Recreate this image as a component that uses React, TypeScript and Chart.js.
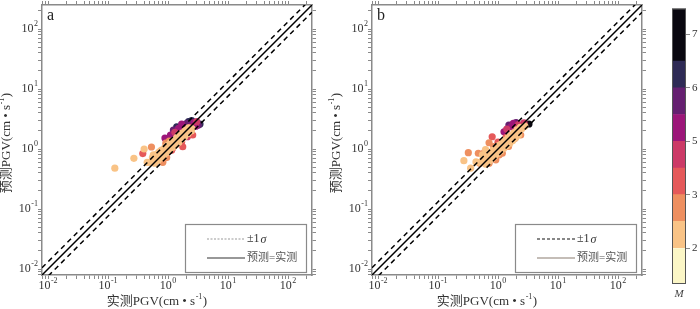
import React, { useEffect, useRef } from "react";
import { Chart, registerables } from "chart.js";
Chart.register(...registerables);

// ---------- axis setup ----------
const LOG_MIN = -2.1;
const LOG_MAX = 2.4;
const AXIS_MIN = Math.pow(10, LOG_MIN);
const AXIS_MAX = Math.pow(10, LOG_MAX);
const DECADES = [-2, -1, 0, 1, 2];
const SIGMA = 0.12; // log10 units

// ---------- colour bar (magnitude classes) ----------
const BAND_COLORS = ["#fbf6c6", "#f9c386", "#ee8f60", "#e5595a", "#cc3a67", "#9c1679", "#651f70", "#2e2a55", "#09070f"];
const BAND_EDGES = [-0.67, 0, 0.5, 1, 1.5, 2, 2.5, 3, 3.5, 4.48];
const CB_TICKS = [0, 1, 2, 3, 4];
const CB_LABELS = ["2", "3", "5", "6", "7"];

// ---------- panel a : observed x, predicted y, magnitude class ----------
const aX = [1.40, 3.41, 2.48, 2.20, 2.05, 1.23, 1.85, 3.20, 1.50, 1.69, 2.70, 2.90, 1.60, 1.10, 0.89,
  3.01, 1.30, 2.30, 2.10, 1.20,
  0.38, 1.47, 1.76, 1.69, 2.58, 1.15, 1.60,
  0.53, 0.82, 0.75, 0.95, 1.30, 0.92, 1.05,
  0.13, 0.27, 0.40, 0.57, 0.69, 0.45,
  0.50, 0.56, 0.63, 0.71, 0.79, 0.89, 1.00, 1.12, 1.26, 1.41, 1.58, 1.78, 2.00, 2.24, 2.51,
  0.55, 0.62, 0.70, 0.78, 0.88, 0.98, 1.10, 1.25, 1.40, 1.55, 1.75, 1.95, 2.20,
  0.60, 0.68, 0.76, 0.86, 0.96, 1.08, 1.22, 1.36, 1.52, 1.70, 1.90, 2.15, 2.45];
const aY = [2.35, 2.61, 2.97, 2.85, 2.68, 2.07, 2.45, 2.50, 2.20, 2.61, 2.75, 2.40, 2.00, 1.70, 1.52,
  2.85, 1.90, 2.30, 1.60, 1.05,
  0.84, 1.32, 1.09, 1.32, 1.71, 0.95, 1.45,
  1.08, 0.60, 0.92, 0.72, 1.20, 1.25, 1.35,
  0.48, 0.70, 1.00, 0.80, 0.66, 0.60,
  0.60, 0.66, 0.72, 0.79, 0.87, 0.95, 1.05, 1.15, 1.26, 1.38, 1.51, 1.66, 1.82, 2.00, 2.19,
  0.72, 0.80, 0.88, 0.96, 1.05, 1.15, 1.28, 1.40, 1.55, 1.70, 1.85, 2.05, 2.25,
  0.58, 0.65, 0.72, 0.80, 0.88, 0.98, 1.08, 1.18, 1.30, 1.45, 1.62, 1.80, 2.00];
const aM = [7, 7, 7, 7, 6, 6, 6, 6, 5, 5, 5, 5, 5, 5, 5,
  4, 4, 4, 4, 4,
  3, 3, 3, 3, 3, 3, 3,
  2, 2, 2, 2, 2, 2, 2,
  1, 1, 1, 1, 1, 1,
  1, 1, 1, 1, 1, 1, 1, 1, 1, 1, 1, 1, 1, 1, 1,
  1, 1, 1, 1, 1, 1, 1, 1, 1, 1, 1, 1, 1,
  1, 1, 1, 1, 1, 1, 1, 1, 1, 1, 1, 1, 1];

// ---------- panel b ----------
const bX = [3.28, 1.52, 2.00, 1.80, 1.26, 1.65, 2.71, 1.40, 2.20,
  0.80, 1.00, 2.10, 1.35,
  0.32, 0.47, 0.59, 0.71, 2.39, 1.18, 0.92, 0.71, 0.50, 0.85, 1.05, 1.50, 1.90,
  0.27, 0.35, 0.43, 0.62, 0.55,
  0.50, 0.56, 0.63, 0.71, 0.79, 0.89, 1.00, 1.12, 1.26, 1.41, 1.58, 1.78, 2.00, 2.24, 2.51, 2.80,
  0.58, 0.66, 0.74, 0.83, 0.93, 1.04, 1.17, 1.31, 1.47, 1.65, 1.85, 2.08, 2.35,
  0.62, 0.70, 0.79, 0.88, 0.99, 1.11, 1.25, 1.40, 1.57, 1.76, 1.98, 2.22];
const bY = [2.61, 2.51, 2.75, 2.68, 1.94, 2.35, 2.74, 2.15, 2.55,
  1.60, 1.30, 2.10, 1.55,
  0.87, 0.85, 0.87, 1.27, 1.71, 0.85, 0.66, 0.58, 0.58, 1.10, 0.80, 1.10, 1.50,
  0.64, 0.48, 0.61, 0.98, 0.80,
  0.60, 0.66, 0.72, 0.79, 0.87, 0.95, 1.05, 1.15, 1.26, 1.38, 1.51, 1.66, 1.82, 2.00, 2.19, 2.40,
  0.72, 0.80, 0.88, 0.96, 1.05, 1.15, 1.28, 1.40, 1.55, 1.70, 1.88, 2.08, 2.30,
  0.56, 0.62, 0.69, 0.76, 0.84, 0.93, 1.03, 1.13, 1.25, 1.38, 1.55, 1.72];
const bM = [8, 6, 6, 5, 5, 5, 4, 4, 4,
  3, 3, 3, 3,
  2, 2, 2, 2, 2, 2, 2, 2, 2, 2, 2, 2, 2,
  1, 1, 1, 1, 1,
  1, 1, 1, 1, 1, 1, 1, 1, 1, 1, 1, 1, 1, 1, 1, 1,
  1, 1, 1, 1, 1, 1, 1, 1, 1, 1, 1, 1, 1,
  1, 1, 1, 1, 1, 1, 1, 1, 1, 1, 1, 1];

const X_TITLE = "实测PGV(cm \u2022 s";
const Y_TITLE = "预测PGV(cm \u2022 s";
const LEGEND_SIGMA = "\u00b11";
const LEGEND_EQUAL = "预测=实测";

const SERIF = "'Liberation Serif', 'Times New Roman', 'Noto Sans CJK SC', serif";
const TEXT = "#333";
const FRAME = "#8a8a8a";

const MINOR_TICKS: number[] = [];
for (let d = -3; d <= 2; d++) {
  for (let k = 1; k <= 9; k++) {
    const v = k * Math.pow(10, d);
    if (v >= AXIS_MIN && v <= AXIS_MAX) MINOR_TICKS.push(v);
  }
}

function logAxis(position: string, size: number) {
  const vertical = position === "left" || position === "right";
  return {
    type: "logarithmic",
    position,
    min: AXIS_MIN,
    max: AXIS_MAX,
    afterBuildTicks: (s: any) => {
      s.ticks = MINOR_TICKS.map((v) => ({ value: v }));
    },
    afterFit: (s: any) => {
      if (vertical) s.width = size;
      else s.height = size;
    },
    ticks: { display: false, autoSkip: false },
    grid: { drawOnChartArea: false, drawTicks: true, tickLength: 4, color: FRAME, lineWidth: 1 },
    border: { display: true, color: FRAME, width: 1.5 },
  };
}

function drawPow(ctx: CanvasRenderingContext2D, x: number, y: number, exp: number, align: string) {
  const base = "10";
  const sup = exp < 0 ? "-" + Math.abs(exp) : String(exp);
  ctx.font = `12px ${SERIF}`;
  const wb = ctx.measureText(base).width;
  ctx.font = `8px ${SERIF}`;
  const we = ctx.measureText(sup).width;
  const total = wb + we + 0.5;
  let x0 = x;
  if (align === "center") x0 = x - total / 2;
  else if (align === "right") x0 = x - total;
  ctx.textAlign = "left";
  ctx.textBaseline = "middle";
  ctx.fillStyle = TEXT;
  ctx.font = `12px ${SERIF}`;
  ctx.fillText(base, x0, y);
  ctx.font = `8px ${SERIF}`;
  ctx.fillText(sup, x0 + wb + 0.5, y - 5);
}

function drawTitle(ctx: CanvasRenderingContext2D, text: string, cx: number, cy: number) {
  ctx.font = `13px ${SERIF}`;
  const w1 = ctx.measureText(text).width;
  ctx.font = `8px ${SERIF}`;
  const w2 = ctx.measureText("-1").width;
  ctx.font = `13px ${SERIF}`;
  const w3 = ctx.measureText(")").width;
  const total = w1 + w2 + w3 + 1;
  let x = cx - total / 2;
  ctx.textAlign = "left";
  ctx.textBaseline = "middle";
  ctx.fillStyle = TEXT;
  ctx.fillText(text, x, cy);
  x += w1 + 0.5;
  ctx.font = `8px ${SERIF}`;
  ctx.fillText("-1", x, cy - 5);
  x += w2 + 0.5;
  ctx.font = `13px ${SERIF}`;
  ctx.fillText(")", x, cy);
}

function panelPlugin(letter: string, legendDash: number[], legendDashColor: string, legendSolidColor: string) {
  return {
    id: "panelDeco" + letter,
    afterDraw(chart: any) {
      const { ctx, chartArea: ca, scales } = chart;
      ctx.save();
      DECADES.forEach((d) => {
        const v = Math.pow(10, d);
        drawPow(ctx, scales.x.getPixelForValue(v), ca.bottom + 11, d, "center");
        drawPow(ctx, ca.left - 4, scales.y.getPixelForValue(v), d, "right");
      });
      // axis titles
      drawTitle(ctx, X_TITLE, ca.left + 115, ca.bottom + 27);
      ctx.save();
      ctx.translate(ca.left - 35, ca.top + 138);
      ctx.rotate(-Math.PI / 2);
      drawTitle(ctx, Y_TITLE, 0, 0);
      ctx.restore();
      // panel letter
      ctx.font = `16px ${SERIF}`;
      ctx.fillStyle = "#222";
      ctx.textAlign = "left";
      ctx.textBaseline = "middle";
      ctx.fillText(letter, ca.left + 5, ca.top + 11);
      // legend box
      const bx = ca.right - 127;
      const by = ca.bottom - 51;
      const bw = 121;
      const bh = 48;
      ctx.fillStyle = "#fff";
      ctx.fillRect(bx, by, bw, bh);
      ctx.strokeStyle = FRAME;
      ctx.lineWidth = 1.2;
      ctx.strokeRect(bx + 0.5, by + 0.5, bw, bh);
      const r1 = by + 15;
      const r2 = by + 34;
      ctx.beginPath();
      ctx.setLineDash(legendDash);
      ctx.strokeStyle = legendDashColor;
      ctx.lineWidth = 1.2;
      ctx.moveTo(bx + 22, r1);
      ctx.lineTo(bx + 60, r1);
      ctx.stroke();
      ctx.setLineDash([]);
      ctx.beginPath();
      ctx.strokeStyle = legendSolidColor;
      ctx.moveTo(bx + 22, r2);
      ctx.lineTo(bx + 60, r2);
      ctx.stroke();
      ctx.fillStyle = TEXT;
      ctx.font = `12px ${SERIF}`;
      ctx.fillText(LEGEND_SIGMA, bx + 62, r1);
      const w = ctx.measureText(LEGEND_SIGMA).width;
      ctx.font = `italic 12px ${SERIF}`;
      ctx.fillText("\u03c3", bx + 62 + w + 1, r1 + 1);
      ctx.font = `11px ${SERIF}`;
      ctx.fillStyle = "#555";
      ctx.fillText(LEGEND_EQUAL, bx + 62, r2);
      ctx.restore();
    },
  };
}

function makePanelConfig(xs: number[], ys: number[], ms: number[], leftW: number, letter: string, legendDash: number[], legendDashColor: string, legendSolidColor: string) {
  const lineFactor = [Math.pow(10, SIGMA), 1, Math.pow(10, -SIGMA)];
  const lineSets = lineFactor.map((f) => ({
    type: "line",
    data: [
      { x: AXIS_MIN, y: AXIS_MIN * f },
      { x: AXIS_MAX, y: AXIS_MAX * f },
    ],
    borderColor: "#000",
    borderWidth: 1.5,
    borderDash: f === 1 ? [] : [5, 4],
    pointRadius: 0,
    showLine: true,
    fill: false,
    order: 0,
  }));
  return {
    type: "scatter",
    data: {
      datasets: [
        {
          data: xs.map((x, i) => ({ x, y: ys[i] })),
          backgroundColor: ms.map((c) => BAND_COLORS[c]),
          pointRadius: 3.6,
          borderWidth: 0,
          pointHoverRadius: 3.6,
          order: 1,
        },
        ...lineSets,
      ],
    },
    options: {
      animation: false,
      responsive: false,
      devicePixelRatio: 1,
      layout: { padding: 0 },
      plugins: { legend: { display: false }, tooltip: { enabled: false } },
      scales: {
        x: logAxis("bottom", 34),
        x2: logAxis("top", 5),
        y: logAxis("left", leftW),
        y2: logAxis("right", 13),
      },
    },
    plugins: [panelPlugin(letter, legendDash, legendDashColor, legendSolidColor)],
  };
}

function makeColorbarConfig() {
  const datasets = BAND_COLORS.map((c, i) => ({
    data: [[BAND_EDGES[i], BAND_EDGES[i + 1]]],
    backgroundColor: c,
    borderWidth: 0,
    barPercentage: 1,
    categoryPercentage: 1,
    grouped: false,
  }));
  return {
    type: "bar",
    data: { labels: ["M"], datasets },
    options: {
      animation: false,
      responsive: false,
      devicePixelRatio: 1,
      layout: { padding: { left: 17, top: 6, bottom: 25, right: 0 } },
      plugins: { legend: { display: false }, tooltip: { enabled: false } },
      scales: {
        x: { display: false },
        y: {
          position: "right",
          min: BAND_EDGES[0],
          max: BAND_EDGES[BAND_EDGES.length - 1],
          afterBuildTicks: (s: any) => {
            s.ticks = CB_TICKS.map((v) => ({ value: v }));
          },
          afterFit: (s: any) => {
            s.width = 14;
          },
          ticks: {
            callback: (v: any) => {
              const idx = CB_TICKS.indexOf(Number(v));
              return idx >= 0 ? CB_LABELS[idx] : "";
            },
            color: TEXT,
            padding: 2,
            font: { family: SERIF, size: 11 },
          },
          grid: { drawOnChartArea: false, drawTicks: true, tickLength: 4, color: FRAME },
          border: { display: false },
        },
      },
    },
    plugins: [
      {
        id: "cbDeco",
        afterDraw(chart: any) {
          const { ctx, chartArea: ca } = chart;
          ctx.save();
          ctx.strokeStyle = "#555";
          ctx.lineWidth = 1;
          ctx.strokeRect(ca.left + 0.5, ca.top + 0.5, ca.right - ca.left - 1, ca.bottom - ca.top - 1);
          ctx.fillStyle = "#444";
          ctx.font = `italic 11px ${SERIF}`;
          ctx.textAlign = "center";
          ctx.textBaseline = "middle";
          ctx.fillText("M", (ca.left + ca.right) / 2, ca.bottom + 10);
          ctx.restore();
        },
      },
    ],
  };
}

function ChartCanvas({ config, left, width, height }: any) {
  const ref = useRef<HTMLCanvasElement | null>(null);
  useEffect(() => {
    if (!ref.current) return;
    const chart = new Chart(ref.current, config() as any);
    return () => chart.destroy();
  }, []);
  return (
    <canvas
      ref={ref}
      width={width}
      height={height}
      style={{ position: "absolute", left, top: 0, width, height }}
    />
  );
}

export default function App() {
  return (
    <div style={{ position: "fixed", left: 0, top: 0, width: 700, height: 309, background: "#fff", overflow: "hidden" }}>
      <ChartCanvas
        left={0}
        width={325}
        height={309}
        config={() => makePanelConfig(aX, aY, aM, 42, "a", [2, 1.5], "#999", "#333")}
      />
      <ChartCanvas
        left={325}
        width={330}
        height={309}
        config={() => makePanelConfig(bX, bY, bM, 47, "b", [3, 2], "#111", "#8a7d70")}
      />
      <ChartCanvas left={655} width={45} height={309} config={makeColorbarConfig} />
    </div>
  );
}
